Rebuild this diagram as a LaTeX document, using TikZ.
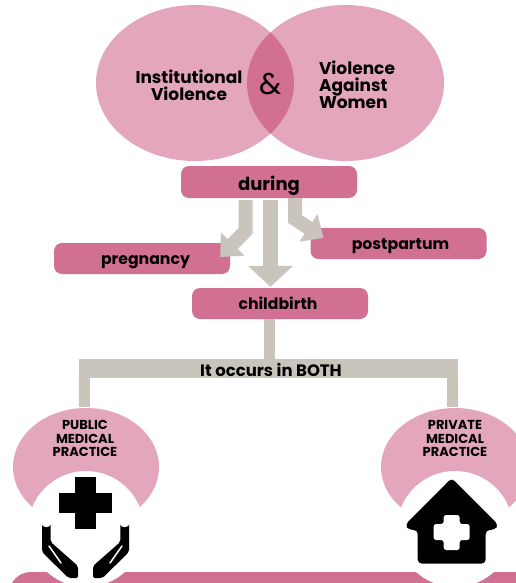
\documentclass[tikz,border=0pt]{standalone}
\usepackage{fontspec}
\setmainfont{Poppins}
\usetikzlibrary{arrows.meta,positioning,shapes.geometric}

\definecolor{lightpink}{HTML}{E3A6BD}
\definecolor{darkpink}{HTML}{D27094}
\definecolor{stone}{HTML}{C9C5BD}

\tikzset{
    bubble/.style={ellipse, fill=lightpink, inner sep=0pt},
    stagebox/.style={rectangle, rounded corners=8pt, fill=darkpink, inner sep=0pt,
        minimum width=176pt, minimum height=31pt, text height=11pt, text depth=0pt,
        font=\bfseries\fontsize{15.7}{15.7}\selectfont},
    bigtext/.style={align=center, font=\bfseries\fontsize{17}{17}\selectfont},
    smalltext/.style={align=center, font=\bfseries\fontsize{13}{13.5}\selectfont},
    blockarrow/.style={draw=stone, line width=15pt,
        -{Triangle[width=44pt, length=21pt, color=stone]}},
    bentarrow/.style={draw=stone, line width=14pt,
        -{Triangle[width=32pt, length=18pt, color=stone]}},
    stem/.style={draw=stone, line width=11pt},
}

\begin{document}
\begin{tikzpicture}[x=1pt, y=-1pt]
    \useasboundingbox (0, 0) rectangle (515, 583);

    % Top bubbles
    \node[bubble, minimum width=198pt, minimum height=156pt] (institutional) at (195, 83) {};
    \node[bubble, minimum width=197pt, minimum height=156pt] (women) at (345.5, 83) {};
    \begin{scope}
        \clip (195, 83) ellipse (99 and 78);
        \fill[darkpink] (345.5, 83) ellipse (98.5 and 78);
    \end{scope}
    \node[bigtext] (institutionaltext) at (189, 85) {Institutional\\Violence};
    \node[bigtext, align=left] (womentext) at (357, 85) {Violence\\Against\\Women};
    \node[font=\fontsize{30}{30}\selectfont] (amp) at (271, 84) {\&};

    % Stages
    \node[stagebox, minimum height=32pt, text height=16pt, font=\bfseries\fontsize{18}{18}\selectfont] (during) at (269, 182) {during};
    \node[stagebox] (pregnancy) at (142, 258.5) {\hspace*{7pt}pregnancy};
    \node[stagebox] (postpartum) at (398.5, 243.5) {\hspace*{4pt}postpartum};
    \node[stagebox, text height=12pt] (childbirth) at (280, 303.5) {childbirth\hspace*{4pt}};

    % Arrows
    \coordinate (leftbend) at (245.5, 231);
    \coordinate (rightbend) at (295, 219);
    \draw[blockarrow] ([xshift=1.5pt, yshift=-2pt]during.south) -- ([xshift=-9.5pt, yshift=1pt]childbirth.north);
    \draw[bentarrow] ([xshift=-23.5pt, yshift=-2pt]during.south) -- (leftbend) -- ([xshift=-10pt, yshift=1.5pt]pregnancy.east);
    \draw[bentarrow] ([xshift=26pt]during.south) -- (rightbend) -- ([xshift=-75pt, yshift=-10pt]postpartum.north);

    % Both
    \node[fill=stone, minimum width=379pt, minimum height=19pt, inner sep=0pt, text height=15pt, text depth=0pt,
        font=\bfseries\fontsize{16.5}{16.5}\selectfont] (both) at (268.5, 368.5) {\hspace*{5pt}It occurs in BOTH};
    \node[bubble, minimum width=146pt, minimum height=118pt] (public) at (86, 467) {};
    \node[bubble, minimum width=148pt, minimum height=118pt] (private) at (455, 467) {};
    \draw[stem] ([xshift=-11pt]childbirth.south) -- ([xshift=0.5pt]both.north);
    \draw[stem] ([xshift=5.5pt]both.south west) -- ([xshift=-1.5pt, yshift=1pt]public.north);
    \draw[stem] ([xshift=-5.5pt]both.south east) -- ([xshift=-2.5pt, yshift=1pt]private.north);
    \node[smalltext] (publictext) at (85, 438.5) {PUBLIC\\MEDICAL\\PRACTICE};
    \node[smalltext] (privatetext) at (455, 438.5) {PRIVATE\\MEDICAL\\PRACTICE};

    % Bottom band and white circles
    \fill[darkpink, rounded corners=22pt] (9, 572) rectangle (560, 640);
    \fill[white] (86, 529) circle (58);
    \fill[white] (455, 529) circle (58);

    % Cross and hands
    \fill (75, 477) rectangle (96, 529);
    \fill (59, 493) rectangle (112, 513);
    \foreach \side in {1, -1} {
        \begin{scope}[shift={(85.5, 0)}, xscale=\side]
            \fill[rounded corners=2pt] (-43.5, 523) arc (180:0:4.35) -- (-34.8, 542) -- (-7.5, 566) -- (-7.5, 578) -- (-17, 578) -- (-43.5, 552) -- cycle;
            \draw[white, line width=1.5pt, line cap=round] (-36.5, 546) -- (-24.5, 563);
        \end{scope}
    }

    % House
    \fill[rounded corners=4pt] (451.7, 478) -- (405, 525) -- (409, 530) -- (417.7, 530) -- (417.7, 563.5) -- (485.7, 563.5) -- (485.7, 530) -- (494.5, 530) -- (498.5, 525) -- cycle;
    \fill[white, rounded corners=2.5pt] (443.7, 515) -- (459.7, 515) -- (459.7, 524) -- (469.7, 524) -- (469.7, 540) -- (459.7, 540) -- (459.7, 550) -- (443.7, 550) -- (443.7, 540) -- (433.7, 540) -- (433.7, 524) -- (443.7, 524) -- cycle;
\end{tikzpicture}
\end{document}
